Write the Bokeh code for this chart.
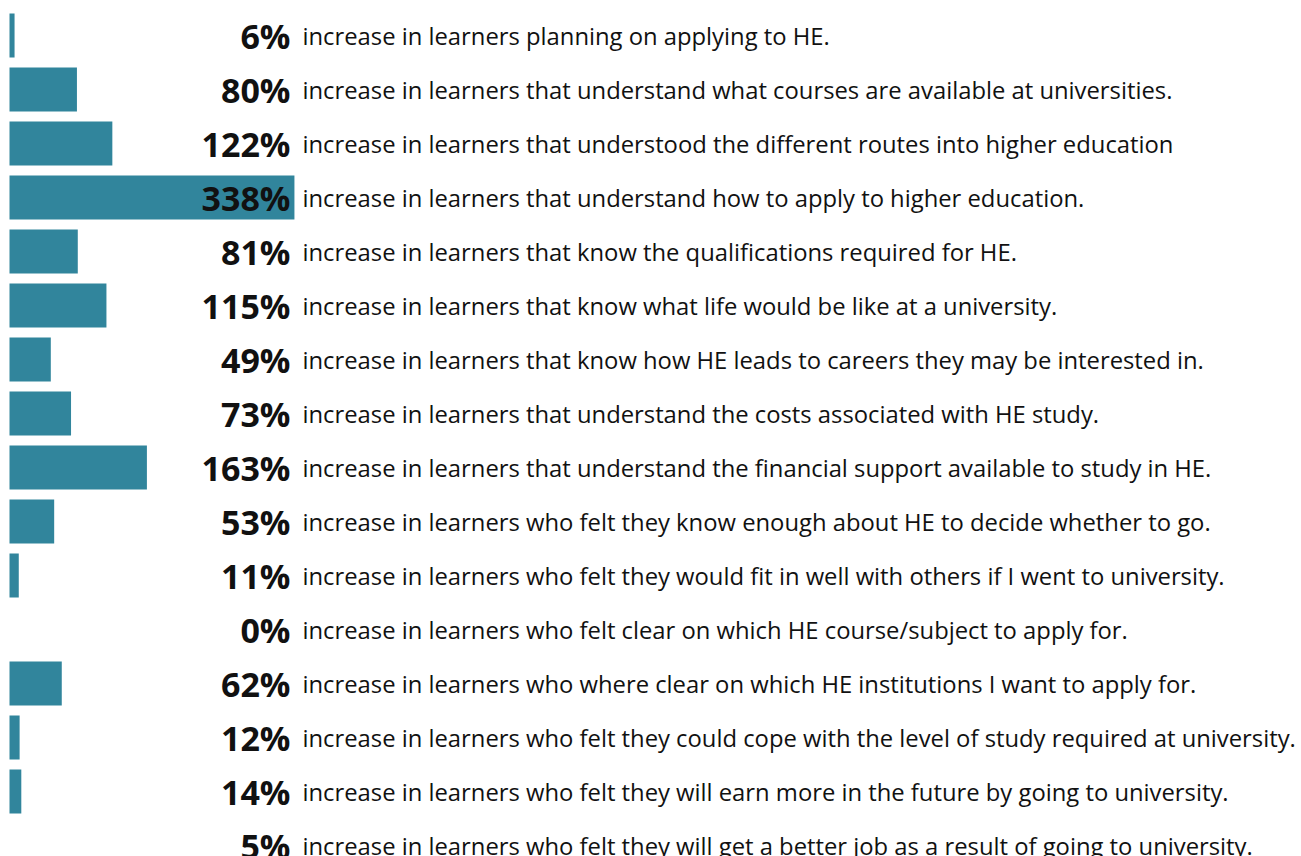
from bokeh.plotting import figure
from bokeh.models import Range1d, ColumnDataSource
from bokeh.core.properties import value
from bokeh.embed import file_html
from bokeh.resources import INLINE

values = [6, 80, 122, 338, 81, 115, 49, 73, 163, 53, 11, 0, 62, 12, 14, 5]
pct_labels = ["6%", "80%", "122%", "338%", "81%", "115%", "49%", "73%", "163%",
              "53%", "11%", "0%", "62%", "12%", "14%", "5%"]
descriptions = [
    "increase in learners planning on applying to HE.",
    "increase in learners that understand what courses are available at universities.",
    "increase in learners that understood the different routes into higher education",
    "increase in learners that understand how to apply to higher education.",
    "increase in learners that know the qualifications required for HE.",
    "increase in learners that know what life would be like at a university.",
    "increase in learners that know how HE leads to careers they may be interested in.",
    "increase in learners that understand the costs associated with HE study.",
    "increase in learners that  understand the financial support available to study in HE.",
    "increase in learners who felt they know enough about HE to decide whether to go.",
    "increase in learners who felt they would fit in well with others if I went to university.",
    "increase in learners who felt clear on which HE course/subject to apply for.",
    "increase in learners who where clear on which HE institutions I want to apply for.",
    "increase in learners who felt they could cope with the level of study required at university.",
    "increase in learners who felt they will earn more in the future by going to university.",
    "increase in learners who felt they will get a better job as a result of going to university.",
]
rows = list(range(len(values)))
# the reference shows bars for the first 15 rows only
n_bars = 15

W, H = 1301, 856
px_per_unit = 0.843
x0_px = 9.0
row_px = 54.0
first_row_px = 35.0

x_start = -x0_px / px_per_unit
x_end = x_start + W / px_per_unit
y_top = -first_row_px / row_px
y_bottom = y_top + H / row_px

p = figure(width=W, height=H, output_backend="svg", toolbar_location=None,
           x_range=Range1d(x_start, x_end), y_range=Range1d(y_bottom, y_top),
           min_border=0, outline_line_color=None)
p.axis.visible = False
p.grid.visible = False
p.background_fill_color = "white"
p.border_fill_color = "white"

bars = ColumnDataSource(dict(y=rows[:n_bars], right=values[:n_bars]))
p.hbar(y="y", left=0, right="right", height=44 / row_px, source=bars,
       fill_color="#31859C", line_color=None)

src = ColumnDataSource(dict(y=rows, x=[0] * len(rows), pct=pct_labels, desc=descriptions))
p.text(x="x", y="y", text="pct", source=src, x_offset=281, y_offset=0,
       text_align="right", text_baseline="middle",
       text_font=value("Open Sans"), text_font_style="bold",
       text_font_size="34px", text_color="#111111")
p.text(x="x", y="y", text="desc", source=src, x_offset=293, y_offset=0,
       text_align="left", text_baseline="middle",
       text_font=value("Open Sans"), text_font_size="23.8px", text_color="#111111")

open("out.html", "w").write(file_html(p, INLINE))
